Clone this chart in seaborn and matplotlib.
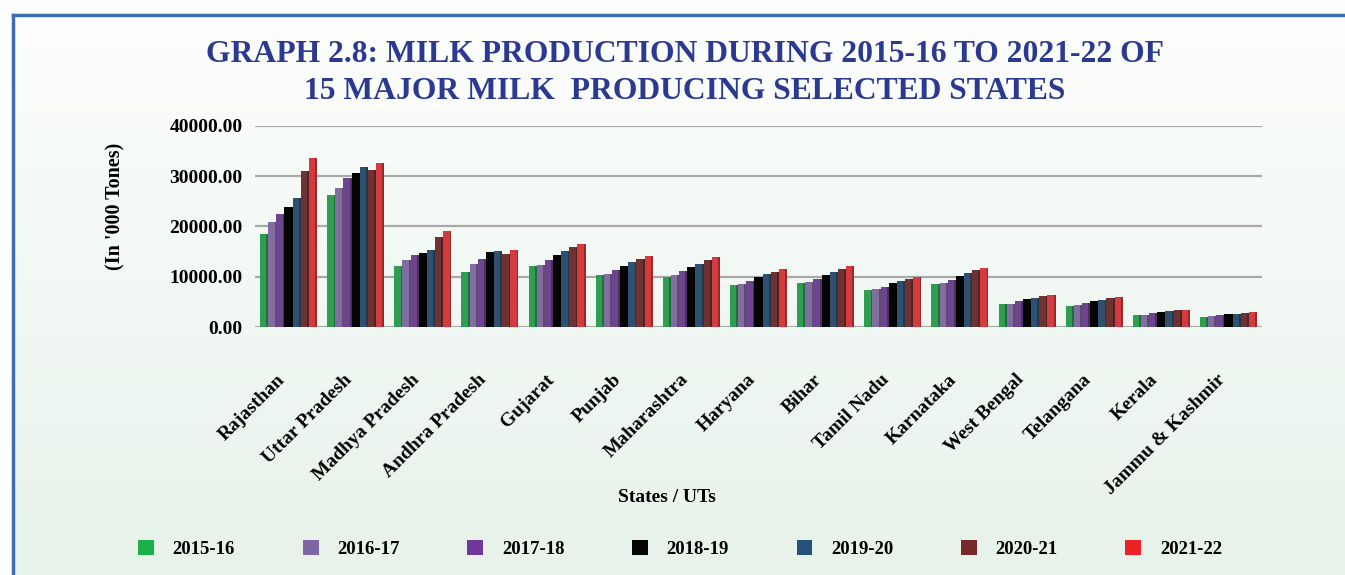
import numpy as np
import pandas as pd
import seaborn as sns
import matplotlib.pyplot as plt
from matplotlib.patches import Patch, Rectangle
from matplotlib.lines import Line2D
from matplotlib.colors import to_rgb
from matplotlib.transforms import ScaledTranslation

# Milk production ('000 tonnes)
states = ["Rajasthan", "Uttar Pradesh", "Madhya Pradesh", "Andhra Pradesh", "Gujarat",
          "Punjab", "Maharashtra", "Haryana", "Bihar", "Tamil Nadu", "Karnataka",
          "West Bengal", "Telangana", "Kerala", "Jammu & Kashmir"]
years = ["2015-16", "2016-17", "2017-18", "2018-19", "2019-20", "2020-21", "2021-22"]

y2015_16 = [18500, 26300, 12100, 11000, 12100, 10300, 10000, 8300, 8700, 7300, 8600, 4500, 4200, 2400, 2000]
y2016_17 = [20900, 27700, 13300, 12600, 12400, 10600, 10300, 8600, 9000, 7500, 8800, 4600, 4400, 2400, 2200]
y2017_18 = [22500, 29700, 14400, 13600, 13300, 11300, 11100, 9100, 9600, 8000, 9400, 5100, 4800, 2700, 2300]
y2018_19 = [23800, 30600, 14800, 14900, 14300, 12200, 11900, 9900, 10400, 8700, 10100, 5500, 5100, 3000, 2500]
y2019_20 = [25700, 31800, 15400, 15200, 15200, 12900, 12600, 10600, 11000, 9200, 10800, 5800, 5400, 3100, 2600]
y2020_21 = [31000, 31300, 17900, 14600, 15900, 13500, 13300, 11000, 11600, 9600, 11300, 6100, 5700, 3300, 2800]
y2021_22 = [33500, 32600, 19100, 15400, 16600, 14200, 13900, 11500, 12100, 10000, 11800, 6400, 6000, 3400, 3000]

colors = ["#1cb04c", "#8064a8", "#70389a", "#050505", "#24507a", "#78282a", "#ee2226"]

series = [y2015_16, y2016_17, y2017_18, y2018_19, y2019_20, y2020_21, y2021_22]
df = pd.DataFrame({
    "State": states * len(years),
    "Year": [y for y in years for _ in states],
    "Value": [v for s in series for v in s],
})

W, H = 1345, 575
fig = plt.figure(figsize=(W / 100, H / 100), dpi=100)
plt.rcParams["font.family"] = ["Liberation Serif", "DejaVu Serif"]

# background: white page, framed gradient panel
bg = fig.add_axes([0, 0, 1, 1], zorder=-10)
bg.set_xlim(0, W)
bg.set_ylim(H, 0)
bg.axis("off")
grad = np.linspace(0, 1, 256)[:, None]
top_c = np.array(to_rgb("#fdfefd"))
bot_c = np.array(to_rgb("#e6f2ea"))
img = top_c[None, None, :] * (1 - grad[:, :, None]) + bot_c[None, None, :] * grad[:, :, None]
bg.imshow(img, extent=(13, W, H, 15), aspect="auto")
bg.add_line(Line2D([13, W], [15, 15], color="#3d6fae", lw=2.5))
bg.add_line(Line2D([13, 13], [15, H], color="#3d6fae", lw=2.5))

# main chart
ax = fig.add_axes([255 / W, 1 - 327 / H, (1262 - 255) / W, (327 - 125.8) / H])
ax.patch.set_alpha(0)
sns.barplot(data=df, x="State", y="Value", hue="Year", palette=colors,
            width=0.85, gap=0, legend=False, ax=ax, zorder=3)

# fake 3D: darker right face on every bar
for p in list(ax.patches):
    x, w, h = p.get_x(), p.get_width(), p.get_height()
    c = np.array(to_rgb(p.get_facecolor())) * 0.7
    ax.add_patch(Rectangle((x + w * 0.78, 0), w * 0.22, h, color=c, zorder=4, lw=0))

ax.set_ylim(0, 40000)
ax.set_xlim(-0.5, len(states) - 0.5)
ax.set_yticks([0, 10000, 20000, 30000, 40000])
ax.set_yticklabels([f"{v:.2f}" for v in [0, 10000, 20000, 30000, 40000]],
                   fontsize=14, fontweight="bold")
ax.yaxis.grid(True, color="#a9a9a9", lw=1.6, zorder=0)
ax.set_axisbelow(True)
for s in ax.spines.values():
    s.set_visible(False)
ax.tick_params(axis="y", length=0, pad=9)
ax.tick_params(axis="x", length=0, pad=36)
ax.set_xlabel("")
ax.set_ylabel("")
shift = ScaledTranslation(-6 / 100, 0, fig.dpi_scale_trans)
for lab in ax.get_xticklabels():
    lab.set_rotation(45)
    lab.set_ha("right")
    lab.set_va("center")
    lab.set_rotation_mode("anchor")
    lab.set_fontsize(14)
    lab.set_fontweight("bold")
    lab.set_transform(lab.get_transform() + shift)

title_color = "#2b3990"
fig.text(685 / W, 1 - 55 / H, "GRAPH 2.8: MILK PRODUCTION DURING 2015-16 TO 2021-22 OF",
         ha="center", va="center", fontsize=22.8, fontweight="bold", color=title_color)
fig.text(685 / W, 1 - 91 / H, "15 MAJOR MILK  PRODUCING SELECTED STATES",
         ha="center", va="center", fontsize=22.8, fontweight="bold", color=title_color)

fig.text(115 / W, 1 - 206 / H, "(In '000 Tones)", rotation=90, ha="center", va="center",
         fontsize=14.5, fontweight="bold")
fig.text(667 / W, 1 - 497 / H, "States / UTs", ha="center", va="center",
         fontsize=14, fontweight="bold")

handles = [Patch(facecolor=c, edgecolor="none") for c in colors]
fig.legend(handles, years, loc="center", bbox_to_anchor=(680 / W, 1 - 549 / H), ncol=7,
           frameon=False, prop={"size": 13.5, "weight": "bold"},
           handlelength=0.85, handleheight=0.85, handletextpad=1.0, columnspacing=3.6)

fig.savefig("out.png", dpi=100)
